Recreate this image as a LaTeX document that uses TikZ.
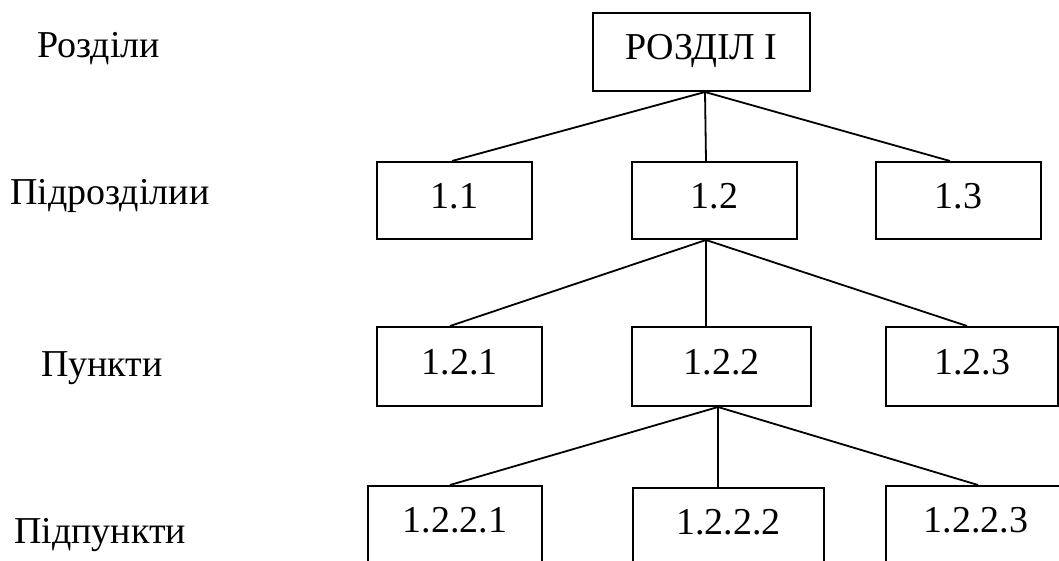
\documentclass[tikz,border=0pt]{standalone}
\usepackage{fontspec}
\setmainfont{Liberation Serif}

\tikzset{
  box/.style={draw=black, line width=2pt, shape=rectangle, inner sep=0pt, minimum height=77pt, text depth=10pt},
  levelname/.style={anchor=base west, inner sep=0pt},
  link/.style={draw=black, line width=1.8pt}
}

\begin{document}
\begin{tikzpicture}[x=1pt, y=-1pt, font=\fontsize{38}{44}\selectfont]
  \useasboundingbox (0,0) rectangle (1059,561);
  \clip (0,0) rectangle (1059,561);

  % level names on the left
  \node[levelname] (lrozd)  at (37,58)  {Розділи};
  \node[levelname] (lpidr)  at (10,205) {Підрозділии};
  \node[levelname] (lpunkt) at (41,376) {Пункти};
  \node[levelname] (lpidp)  at (14,543) {Підпункти};

  % boxes
  \node[box, minimum width=217pt, minimum height=78pt] (rozd) at (701.5,52) {РОЗДІЛ I};

  \node[box, minimum width=155pt] (s11) at (454.5,200.5) {1.1};
  \node[box, minimum width=165pt] (s12) at (714.5,200.5) {1.2};
  \node[box, minimum width=165pt] (s13) at (958.5,200.5) {1.3};

  \node[box, minimum width=165pt, minimum height=79pt] (p121) at (459.5,366.5) {1.2.1};
  \node[box, minimum width=179pt, minimum height=79pt] (p122) at (721.5,366.5) {1.2.2};
  \node[box, minimum width=172pt, minimum height=79pt] (p123) at (972,366.5)   {1.2.3};

  \node[box, minimum width=174pt, minimum height=78pt] (q1) at (455,525)   {1.2.2.1};
  \node[box, minimum width=191pt, minimum height=78pt] (q2) at (728.5,527) {1.2.2.2};
  \node[box, minimum width=180pt, minimum height=78pt] (q3) at (976,525)   {1.2.2.3};

  % connectors
  \draw[link] ([xshift=3.5pt]rozd.south) -- ([xshift=-2.5pt]s11.north);
  \draw[link] ([xshift=3.5pt]rozd.south) -- ([xshift=-8.5pt]s12.north);
  \draw[link] ([xshift=3.5pt]rozd.south) -- ([xshift=-8.5pt]s13.north);

  \draw[link] ([xshift=-8.5pt]s12.south) -- ([xshift=-9.5pt]p121.north);
  \draw[link] ([xshift=-8.5pt]s12.south) -- ([xshift=-15.5pt]p122.north);
  \draw[link] ([xshift=-8.5pt]s12.south) -- ([xshift=-5pt]p123.north);

  \draw[link] ([xshift=-3.5pt]p122.south) -- ([xshift=-5pt]q1.north);
  \draw[link] ([xshift=-3.5pt]p122.south) -- ([xshift=-10.5pt]q2.north);
  \draw[link] ([xshift=-3.5pt]p122.south) -- ([xshift=2pt]q3.north);
\end{tikzpicture}
\end{document}
